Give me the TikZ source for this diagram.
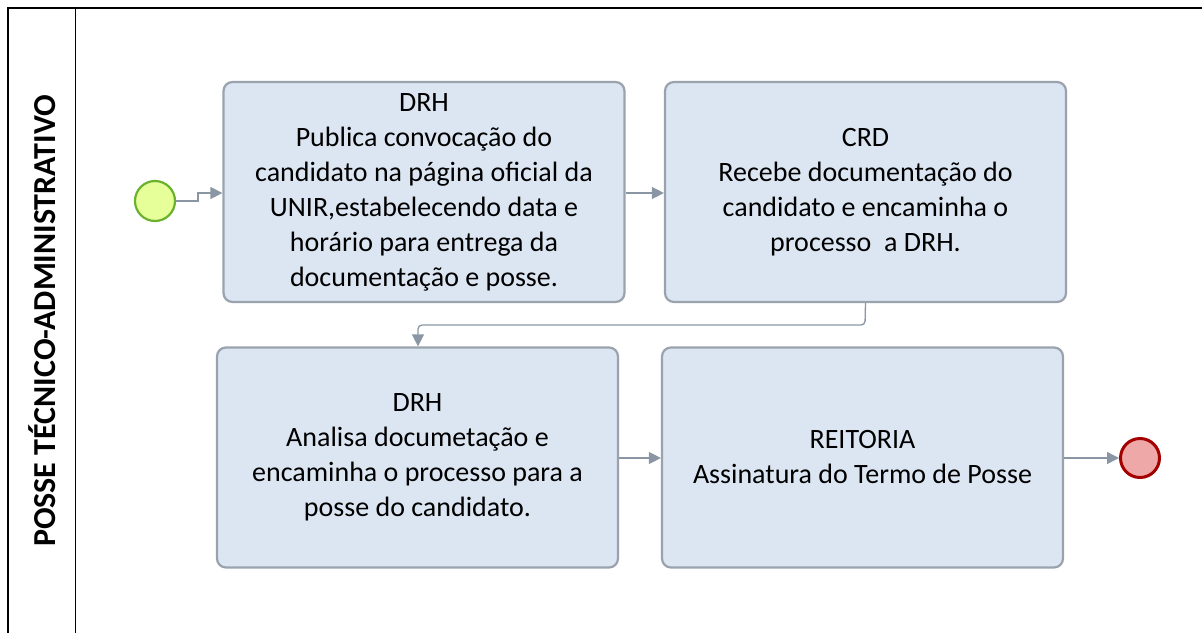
\documentclass[tikz,border=0pt]{standalone}
\usepackage{fontspec}
\setmainfont{Carlito}
\usetikzlibrary{arrows.meta}
\definecolor{boxfill}{HTML}{DCE6F2}
\definecolor{boxline}{HTML}{9AA3AD}
\definecolor{arrowc}{HTML}{8A96A3}
\definecolor{startfill}{HTML}{E6FF99}
\definecolor{startline}{HTML}{6AB22E}
\definecolor{endfill}{HTML}{EFA8A8}
\definecolor{endline}{HTML}{A50000}
\tikzset{
  task/.style={draw=boxline, line width=2.2pt, fill=boxfill, rounded corners=9pt,
    minimum width=401pt, minimum height=220pt, inner sep=0pt,
    align=center,
    font=\fontsize{28}{35}\selectfont},
  flow/.style={draw=arrowc, line width=1.3pt, -{Triangle[length=12pt,width=12pt]}},
  startev/.style={circle, draw=startline, line width=2.2pt, fill=startfill, minimum size=40pt, inner sep=0pt},
  endev/.style={circle, draw=endline, line width=3pt, fill=endfill, minimum size=39pt, inner sep=0pt}
}
\begin{document}
\begin{tikzpicture}[x=1pt,y=-1pt]
\useasboundingbox (0,0) rectangle (1202,632);
\draw[line width=1.5pt] (8,640) -- (8,8) -- (1210,8);
\draw[line width=1.5pt] (75.5,8) -- (75.5,640);
\node[rotate=90, font=\fontsize{32}{34}\selectfont\bfseries] (lane) at (42,321) {POSSE TÉCNICO-ADMINISTRATIVO};

\node[startev] (start) at (155,201) {};
\node[task] (b1) at (424,192) {DRH\\Publica convocação do\\candidato na página oficial da\\UNIR,estabelecendo data e\\horário para entrega da\\documentação e posse.};
\node[task] (b2) at (865.5,192) {CRD\\Recebe documentação do\\candidato e encaminha o\\processo \ a DRH.};
\node[task] (b3) at (417.5,457.5) {DRH\\Analisa documetação e\\encaminha o processo para a\\posse do candidato.};
\node[task] (b4) at (862.5,457.5) {REITORIA\\Assinatura do Termo de Posse};
\node[endev] (end) at (1140,458) {};

\draw[flow] (start.east) -- (198,201) -- (198,193) -- (b1.west |- 0,193);
\draw[flow] (b1.east |- 0,193) -- (b2.west |- 0,193);
\draw[flow, rounded corners=4pt] (b2.south) -- (865,325) -- (418,325) -- (b3.north -| 418,0);
\draw[flow] (b3.east |- 0,458) -- (b4.west |- 0,458);
\draw[flow] (b4.east |- 0,458) -- (end.west);
\end{tikzpicture}
\end{document}
